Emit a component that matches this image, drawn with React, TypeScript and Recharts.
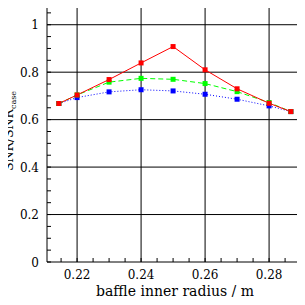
import { LineChart, Line, XAxis, YAxis, ReferenceLine } from "recharts"

// baffle inner radius (m)
const radius = [0.2143, 0.22, 0.23, 0.24, 0.25, 0.26, 0.27, 0.28, 0.2868]
const snrRed = [0.668, 0.704, 0.769, 0.839, 0.908, 0.81, 0.73, 0.669, 0.634]
const snrGreen = [0.668, 0.704, 0.758, 0.774, 0.77, 0.752, 0.718, 0.672, 0.634]
const snrBlue = [0.668, 0.693, 0.717, 0.726, 0.721, 0.707, 0.686, 0.658, 0.634]

const xMajor = [0.22, 0.24, 0.26, 0.28]
const xMajorLabels = ["0.22", "0.24", "0.26", "0.28"]
const xMinor = [0.215, 0.22, 0.225, 0.23, 0.235, 0.24, 0.245, 0.25, 0.255, 0.26, 0.265, 0.27, 0.275, 0.28, 0.285, 0.29]
const yMajor = [0, 0.2, 0.4, 0.6, 0.8, 1]
const yMajorLabels = ["0", "0.2", "0.4", "0.6", "0.8", "1"]
const yMinor = [0.05, 0.1, 0.15, 0.2, 0.25, 0.3, 0.35, 0.4, 0.45, 0.5, 0.55, 0.6, 0.65, 0.7, 0.75, 0.8, 0.85, 0.9, 0.95, 1, 1.05]

const data = radius.map((r, i) => ({ r, red: snrRed[i], green: snrGreen[i], blue: snrBlue[i] }))

const FONT = "DejaVu Serif"
const TICK = 4

const majorIndex = (list: number[], v: number) => list.findIndex((m) => Math.abs(m - v) < 1e-9)

const BottomTick = ({ x, y, payload }: any) => {
    const i = majorIndex(xMajor, payload.value)
    return (
        <g>
            <line x1={x} x2={x} y1={y} y2={y - TICK} stroke="#000" />
            {i >= 0 && (
                <text x={x} y={y + 17} textAnchor="middle" fontSize={12} fontFamily={FONT} fill="#000">
                    {xMajorLabels[i]}
                </text>
            )}
        </g>
    )
}

const TopTick = ({ x, y }: any) => <line x1={x} x2={x} y1={y} y2={y + TICK} stroke="#000" />

const LeftTick = ({ x, y, payload }: any) => {
    const i = majorIndex(yMajor, payload.value)
    return (
        <g>
            <line x1={x} x2={x + TICK} y1={y} y2={y} stroke="#000" />
            {i >= 0 && (
                <text x={x - 8} y={y + 4.5} textAnchor="end" fontSize={12} fontFamily={FONT} fill="#000">
                    {yMajorLabels[i]}
                </text>
            )}
        </g>
    )
}

const RightTick = ({ x, y }: any) => <line x1={x} x2={x - TICK} y1={y} y2={y} stroke="#000" />

const Square = (color: string) => (props: any) => {
    const { cx, cy, index } = props
    return <rect key={index} x={cx - 2.5} y={cy - 2.5} width={5} height={5} fill={color} />
}

export default function App() {
    return (
        <div style={{ margin: -8, width: 305, height: 305, background: "#fff", position: "relative" }}>
            <LineChart width={305} height={305} data={data} margin={{ top: 1, right: 2, bottom: 0, left: 0 }}>
                <XAxis
                    xAxisId="b"
                    dataKey="r"
                    type="number"
                    domain={[0.2106, 0.2906]}
                    ticks={xMinor}
                    interval={0}
                    tick={<BottomTick />}
                    tickLine={false}
                    tickSize={0}
                    tickMargin={0}
                    height={43}
                    axisLine={{ stroke: "#000" }}
                    allowDataOverflow
                />
                <XAxis
                    xAxisId="t"
                    orientation="top"
                    type="number"
                    domain={[0.2106, 0.2906]}
                    ticks={xMinor}
                    interval={0}
                    tick={<TopTick />}
                    tickLine={false}
                    tickSize={0}
                    tickMargin={0}
                    height={0}
                    axisLine={{ stroke: "#000" }}
                    allowDataOverflow
                />
                <YAxis
                    yAxisId="l"
                    type="number"
                    domain={[0, 1.1]}
                    ticks={yMinor.concat([0])}
                    interval={0}
                    tick={<LeftTick />}
                    tickLine={false}
                    tickSize={0}
                    tickMargin={0}
                    width={47}
                    axisLine={{ stroke: "#000" }}
                />
                <YAxis
                    yAxisId="r"
                    orientation="right"
                    type="number"
                    domain={[0, 1.1]}
                    ticks={yMinor}
                    interval={0}
                    tick={<RightTick />}
                    tickLine={false}
                    tickSize={0}
                    tickMargin={0}
                    width={0}
                    axisLine={{ stroke: "#000" }}
                />
                {xMajor.map((v) => (
                    <ReferenceLine key={`vx-${v}`} xAxisId="b" yAxisId="l" x={v} stroke="#000" strokeWidth={1} />
                ))}
                {yMajor.slice(1).map((v) => (
                    <ReferenceLine key={`hy-${v}`} xAxisId="b" yAxisId="l" y={v} stroke="#000" strokeWidth={1} />
                ))}
                <Line
                    xAxisId="b"
                    yAxisId="l"
                    dataKey="blue"
                    stroke="#0000ff"
                    strokeWidth={1}
                    strokeDasharray="1 2"
                    dot={Square("#0000ff")}
                    isAnimationActive={false}
                />
                <Line
                    xAxisId="b"
                    yAxisId="l"
                    dataKey="green"
                    stroke="#00ff00"
                    strokeWidth={1}
                    strokeDasharray="5 3"
                    dot={Square("#00ff00")}
                    isAnimationActive={false}
                />
                <Line
                    xAxisId="b"
                    yAxisId="l"
                    dataKey="red"
                    stroke="#ff0000"
                    strokeWidth={1}
                    dot={Square("#ff0000")}
                    isAnimationActive={false}
                />
            </LineChart>
            {/* axis titles */}
            <svg width={305} height={305} style={{ position: "absolute", left: 0, top: 0, pointerEvents: "none" }}>
                <text x={175} y={296} textAnchor="middle" fontSize={14} fontFamily={FONT} fill="#000">
                    baffle inner radius / m
                </text>
                <text transform="translate(13,131) rotate(-90)" textAnchor="middle" fontSize={12.5} fontFamily={FONT} fill="#000">
                    SNR/SNR
                    <tspan fontSize={8} dy={3}>case</tspan>
                </text>
            </svg>
        </div>
    )
}
